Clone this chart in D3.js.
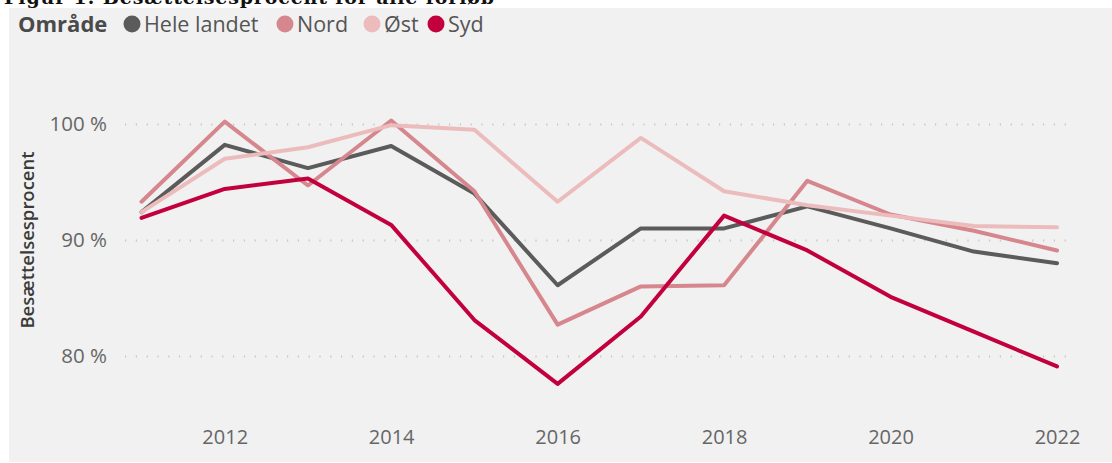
<!DOCTYPE html>
<html>
<head>
<meta charset="utf-8">
<script src="https://cdn.jsdelivr.net/npm/d3@7"></script>
<style>
  body { margin: 0; background: #fff; }
  svg { display: block; }
</style>
</head>
<body>
<div id="chart"></div>
<script>
// data
var years = [2011, 2012, 2013, 2014, 2015, 2016, 2017, 2018, 2019, 2020, 2021, 2022];
var heleLandet = [92.4, 98.2, 96.2, 98.1, 94.0, 86.1, 91.0, 91.0, 92.9, 91.0, 89.0, 88.0];
var nord       = [93.3, 100.2, 94.7, 100.3, 94.2, 82.7, 86.0, 86.1, 95.1, 92.2, 90.8, 89.1];
var oest       = [92.4, 97.0, 98.0, 99.9, 99.5, 93.3, 98.8, 94.2, 93.0, 92.1, 91.2, 91.1];
var syd        = [91.9, 94.4, 95.3, 91.3, 83.1, 77.6, 83.4, 92.1, 89.1, 85.1, 82.1, 79.1];
var seriesNames = ["Hele landet", "Nord", "Øst", "Syd"];
var yTicks = [80, 90, 100];
var xTicks = [2012, 2014, 2016, 2018, 2020, 2022];

var colors = ["#5b5b5b", "#d6878e", "#ecbcbd", "#c2003d"];
var seriesValues = [heleLandet, nord, oest, syd];

var w = 1112, h = 463;
var font = "'Open Sans', 'Noto Sans', sans-serif";

var svg = d3.select("#chart").append("svg")
    .attr("width", w).attr("height", h);

// title, cut off by the top edge as in the source
svg.append("text")
    .attr("x", 4).attr("y", 4)
    .attr("font-family", "'DejaVu Serif', 'Liberation Serif', serif")
    .attr("font-weight", "bold")
    .attr("font-size", 19)
    .attr("textLength", 490)
    .attr("fill", "#111")
    .text("Figur 1: Besættelsesprocent for alle forløb");

svg.append("rect")
    .attr("x", 9).attr("y", 8)
    .attr("width", w - 9).attr("height", h - 9)
    .attr("fill", "#f1f1f1");

var x = d3.scaleLinear().domain([2011, 2022]).range([141.5, 1057]);
var y = d3.scaleLinear().domain([80, 100]).range([356, 124]);

// grid
var grid = svg.append("g").attr("class", "grid")
    .attr("transform", "translate(125,0)")
    .call(d3.axisLeft(y).tickValues(yTicks).tickSize(-944).tickFormat(""));
grid.select(".domain").remove();
grid.selectAll("line")
    .attr("stroke", "#c6c6c6")
    .attr("stroke-width", 2.2)
    .attr("stroke-dasharray", "1.2,9.6");

// y axis labels
var yAxis = svg.append("g")
    .attr("transform", "translate(107,0)")
    .call(d3.axisLeft(y).tickValues(yTicks).tickSize(0).tickPadding(0)
        .tickFormat(function (d) { return d + " %"; }));
yAxis.select(".domain").remove();
yAxis.selectAll("text")
    .attr("font-family", font).attr("font-size", 20.5)
    .attr("fill", "#666");

// x axis labels
var xAxis = svg.append("g")
    .attr("transform", "translate(0,437)")
    .call(d3.axisBottom(x).tickValues(xTicks).tickSize(0).tickPadding(0)
        .tickFormat(d3.format("d")));
xAxis.select(".domain").remove();
xAxis.selectAll("text")
    .attr("font-family", font).attr("font-size", 20)
    .attr("dy", "0.35em")
    .attr("fill", "#666");

// y title
svg.append("text")
    .attr("transform", "translate(34,240) rotate(-90)")
    .attr("text-anchor", "middle")
    .attr("font-family", font).attr("font-size", 18.5)
    .attr("font-weight", 600)
    .attr("fill", "#3a3a3a")
    .text("Besættelsesprocent");

// lines
var line = d3.line()
    .x(function (d, i) { return x(years[i]); })
    .y(function (d) { return y(d); });

svg.append("g").selectAll("path")
    .data(seriesValues).enter().append("path")
    .attr("d", function (d) { return line(d); })
    .attr("fill", "none")
    .attr("stroke", function (d, i) { return colors[i]; })
    .attr("stroke-width", 4)
    .attr("stroke-linejoin", "round")
    .attr("stroke-linecap", "round");

// legend
var legend = svg.append("g").attr("transform", "translate(18,24)");
legend.append("text")
    .attr("x", 0).attr("dy", "0.35em")
    .attr("font-family", font).attr("font-size", 22)
    .attr("font-weight", "bold")
    .attr("fill", "#4a4a4a")
    .text("Område");

var legX = [114, 267, 354, 418];
var items = legend.selectAll("g.item")
    .data(seriesNames).enter().append("g")
    .attr("class", "item")
    .attr("transform", function (d, i) { return "translate(" + legX[i] + ",0)"; });
items.append("circle")
    .attr("r", 8.5).attr("fill", function (d, i) { return colors[i]; });
items.append("text")
    .attr("x", 12).attr("dy", "0.35em")
    .attr("font-family", font).attr("font-size", 21.5)
    .attr("fill", "#555")
    .text(function (d) { return d; });
</script>
</body>
</html>
